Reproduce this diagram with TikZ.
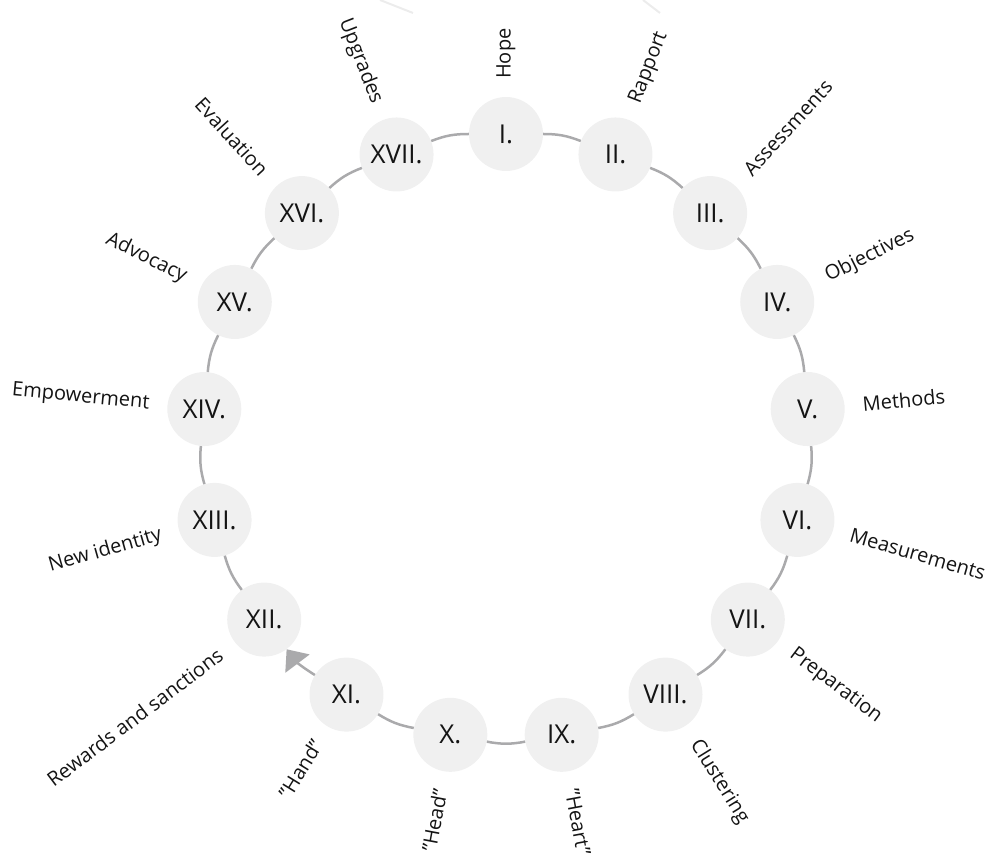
\documentclass[tikz,border=0pt]{standalone}
\usepackage{fontspec}
\setmainfont{Open Sans}
\usetikzlibrary{arrows.meta}
\definecolor{nodefill}{RGB}{240,240,240}
\definecolor{edgecol}{RGB}{170,170,172}
\definecolor{txt}{RGB}{20,20,20}
\definecolor{faint}{RGB}{236,236,236}
\begin{document}
\begin{tikzpicture}[x=1pt,y=1pt,
  stage/.style={circle, fill=nodefill, minimum size=74pt, inner sep=0pt, text=txt, font=\fontsize{26}{30}\selectfont},
  lbl/.style={text=txt, font=\fontsize{20}{24}\selectfont, inner sep=0pt},
  link/.style={draw=edgecol, line width=2.5pt, bend left=10.59},
  faintline/.style={draw=faint, line width=2pt}]
\useasboundingbox (0,0) rectangle (987,856);
\coordinate (c) at (506,419);
\draw[faintline] (380,856) -- (413,843);
\draw[faintline] (643,856) -- (660,843);
\foreach \k/\r/\t in {0/I./Hope, 1/II./Rapport, 2/III./Assessments, 3/IV./Objectives, 4/V./Methods, 5/VI./Measurements, 6/VII./Preparation, 7/VIII./Clustering, 8/IX./"Heart", 9/X./"Head", 10/XI./"Hand", 11/XII./Rewards and sanctions, 12/XIII./New identity, 13/XIV./Empowerment, 14/XV./Advocacy, 15/XVI./Evaluation, 16/XVII./Upgrades}{
  \pgfmathsetmacro\a{90-\k*360/17}
  \node[stage] (n\k) at ([shift={(\a:303)}]c) {\r};
  \pgfmathtruncatemacro\isleft{cos(\a)<-0.01 ? 1 : 0}
  \pgfmathsetmacro\b{\a+180}
  \ifnum\isleft=1
    \node[lbl, anchor=east, rotate=\b] (l\k) at ([shift={(\a:358)}]c) {\t};
  \else
    \node[lbl, anchor=west, rotate=\a] (l\k) at ([shift={(\a:358)}]c) {\t};
  \fi
}
\foreach \k in {0,...,9,11,12,13,14,15}{
  \pgfmathtruncatemacro\j{\k+1}
  \draw[link] (n\k) to (n\j);
}
\draw[link] (n16) to (n0);
\draw[link, -{Triangle[width=30pt,length=18pt]}, fill=edgecol] (n10) to (n11);
\end{tikzpicture}
\end{document}
